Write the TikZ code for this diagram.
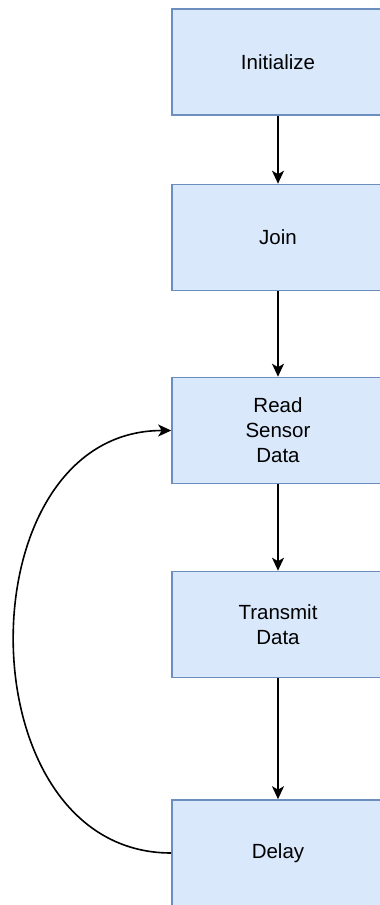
\documentclass[tikz,border=0pt]{standalone}
\usepackage{fontspec}
\setmainfont{Liberation Sans}
\usetikzlibrary{arrows.meta}
\definecolor{boxfill}{HTML}{DAE8FC}
\definecolor{boxline}{HTML}{6C8EBF}
\tikzset{
  stepbox/.style={draw=boxline, fill=boxfill, line width=1.6pt,
    minimum width=212pt, minimum height=106pt, inner sep=0pt,
    align=center, font=\fontsize{20.5pt}{25pt}\selectfont},
  flow/.style={line width=1.6pt, -{Stealth[length=13pt,width=12pt,inset=3.5pt]}}
}
\begin{document}
\begin{tikzpicture}[x=1pt,y=-1pt]
  \useasboundingbox (0,0) rectangle (380,905);
  \clip (0,0) rectangle (380,905);
  \node[stepbox] (init) at (278,62) {Initialize};
  \node[stepbox] (join) at (278,237.5) {Join};
  \node[stepbox] (read) at (278,430.5) {Read\\Sensor\\Data};
  \node[stepbox] (tx) at (278,624.5) {Transmit\\Data};
  \node[stepbox] (delay) at (278,853) {Delay};
  \draw[flow] (init) -- (join);
  \draw[flow] (join) -- (read);
  \draw[flow] (read) -- (tx);
  \draw[flow] (tx) -- (delay);
  % loop back from Delay to Read Sensor Data
  \draw[flow] (delay.west) .. controls (-38,853) and (-38,430.5) .. (read.west);
\end{tikzpicture}
\end{document}
